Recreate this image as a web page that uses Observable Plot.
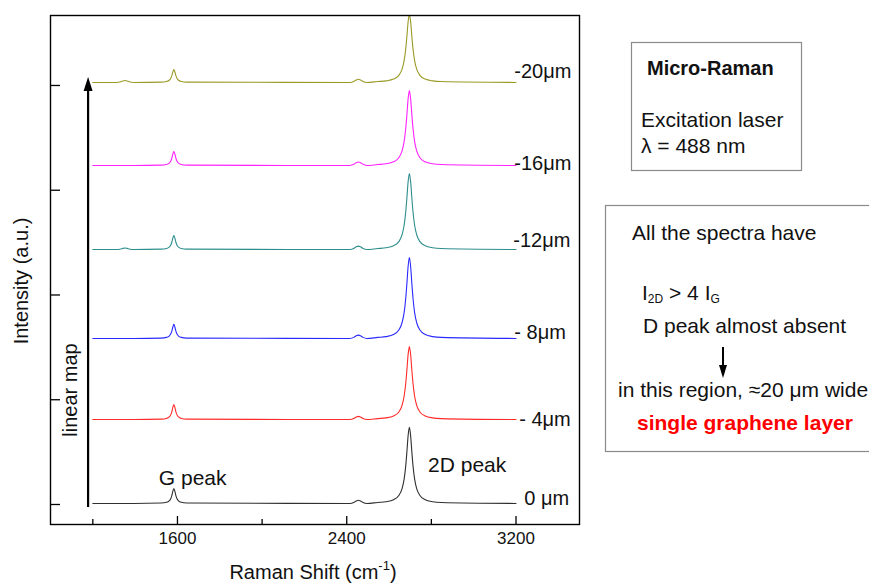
<!DOCTYPE html>
<html>
<head>
<meta charset="utf-8">
<script src="https://cdn.jsdelivr.net/npm/d3@7"></script>
<script src="https://cdn.jsdelivr.net/npm/@observablehq/plot@0.6"></script>
<style>
  html, body { margin: 0; padding: 0; background: #fff; }
  #chart { position: relative; width: 869px; height: 583px; }
  svg { font-family: "Liberation Sans", Arial, sans-serif; }
</style>
</head>
<body>
<div id="chart"></div>
<script>
// ---------- data ----------
const seriesNames  = ["0 μm", "- 4μm", "- 8μm", "-12μm", "-16μm", "-20μm"];
const seriesColors = ["#303030", "#ff2a2a", "#2a2aff", "#2e8e8e", "#ff22ff", "#9a9a28"];
const baselines    = [10, 811, 1585, 2434, 3236, 4029];      // a.u.
const peak2DHeight = [726, 697, 773, 726, 716, 650];
const peakGHeight  = [143, 143, 134, 134, 134, 124];
const bump2450     = [30, 30, 32, 32, 34, 30];
const bumpD        = [0, 0, 0, 14, 0, 18];
const labelX       = [3239, 3215, 3192, 3187, 3192, 3192];
const labelY       = [57, 811, 1642, 2520, 3255, 4134];

const xRange   = [1200, 3200];
const posD     = 1352, posG = 1583, pos2450 = 2455, pos2D = 2696;

// peak profiles (offset in cm-1, relative intensity)
const gOffsets  = [-60, -35, -22, -15, -10, -5, 0, 5, 10, 15, 22, 35, 60];
const gProfile  = [0.027, 0.075, 0.17, 0.31, 0.5, 0.8, 1, 0.8, 0.5, 0.31, 0.17, 0.075, 0.027];
const dOffsets  = [-150, -110, -75, -50, -35, -25, -17, -12, -6, 0, 6, 12, 17, 25, 35, 50, 75, 110, 150];
const dProfile  = [0.013, 0.023, 0.049, 0.104, 0.191, 0.316, 0.5, 0.667, 0.889, 1, 0.889, 0.667, 0.5, 0.316, 0.191, 0.104, 0.049, 0.023, 0.013];
const bOffsets  = [-40, -20, -10, 0, 10, 20, 40];
const bProfile  = [0, 0.4, 0.8, 1, 0.8, 0.4, 0];

const xMajor = [1600, 2400, 3200];
const xMinor = [1200, 2000, 2800];
const yTicks = [0, 1000, 2000, 3000, 4000];

// ---------- build table ----------
const rows = [];
seriesNames.forEach((name, i) => {
  const b = baselines[i];
  const pts = [[xRange[0], 0]];
  bOffsets.forEach((o, k) => pts.push([posD + o, bumpD[i] * bProfile[k]]));
  gOffsets.forEach((o, k) => pts.push([posG + o, peakGHeight[i] * gProfile[k]]));
  bOffsets.forEach((o, k) => pts.push([pos2450 + o, bump2450[i] * bProfile[k]]));
  dOffsets.forEach((o, k) => pts.push([pos2D + o, peak2DHeight[i] * dProfile[k]]));
  pts.push([xRange[1], 0]);
  pts.forEach(([x, v]) => rows.push({series: name, x, y: b + v}));
});

const W = 869, H = 583, mL = 50, mR = 290, mT = 15, mB = 59;
const frameW = W - mL - mR, frameH = H - mT - mB;

const plot = Plot.plot({
  width: W, height: H,
  marginLeft: mL, marginRight: mR, marginTop: mT, marginBottom: mB,
  x: {domain: [1000, 3500], axis: null},
  y: {domain: [-191, 4668], axis: null},
  color: {domain: seriesNames, range: seriesColors},
  style: {fontFamily: '"Liberation Sans", Arial, sans-serif', background: "#fff", overflow: "visible"},
  marks: [
    Plot.line(rows, {x: "x", y: "y", z: "series", stroke: "series", curve: "monotone-x", strokeWidth: 1.1, clip: true}),
    Plot.frame({stroke: "#000", strokeWidth: 1.4}),
    Plot.ruleX(xMajor, {x: d => d, insetTop: frameH - 8, stroke: "#000", strokeWidth: 1.3}),
    Plot.ruleX(xMinor, {x: d => d, insetTop: frameH - 5, stroke: "#000", strokeWidth: 1.3}),
    Plot.ruleY(yTicks, {y: d => d, insetRight: frameW - 10, stroke: "#000", strokeWidth: 1.3}),
    Plot.text(xMajor, {x: d => d, text: d => String(d), frameAnchor: "bottom", dy: 19, fontSize: 17, fill: "#111"}),
    Plot.text(seriesNames, {x: (d, i) => labelX[i], y: (d, i) => labelY[i], text: d => d, textAnchor: "start", fontSize: 20, fill: "#111"}),
    Plot.text(["G peak"], {x: [1672], y: [248], text: d => d, fontSize: 21, fill: "#111"}),
    Plot.text(["2D peak"], {x: [2969], y: [372], text: d => d, fontSize: 21, fill: "#111"})
  ]
});

document.getElementById("chart").appendChild(plot);

// ---------- annotations ----------
const svg = d3.select(plot);
const sx = plot.scale("x"), sy = plot.scale("y");
const ink = "#111";
const txt = (x, y, size, s, opts = {}) => svg.append("text")
  .attr("x", x).attr("y", y).attr("font-size", size)
  .attr("text-anchor", opts.anchor || "start")
  .attr("font-weight", opts.bold ? "bold" : "normal")
  .attr("fill", opts.fill || ink).text(s);

// axis titles
svg.append("text").attr("transform", "translate(28,281) rotate(-90)")
  .attr("text-anchor", "middle").attr("font-size", 20).attr("fill", ink).text("Intensity (a.u.)");
const xt = svg.append("text").attr("x", 313).attr("y", 579).attr("text-anchor", "middle")
  .attr("font-size", 20).attr("fill", ink);
xt.append("tspan").text("Raman Shift (cm");
xt.append("tspan").attr("font-size", 13).attr("dy", -9).text("-1");
xt.append("tspan").attr("dy", 9).text(")");

// linear map arrow
const ax = sx.apply(1180), ay1 = sy.apply(-29), ay2 = sy.apply(4076);
svg.append("line").attr("x1", ax).attr("x2", ax).attr("y1", ay1).attr("y2", ay2 + 12)
  .attr("stroke", "#000").attr("stroke-width", 2.2);
svg.append("path").attr("d", `M${ax},${ay2} L${ax - 4.5},${ay2 + 14} L${ax + 4.5},${ay2 + 14} Z`).attr("fill", "#000");
svg.append("text").attr("transform", `translate(${ax - 11},390) rotate(-90)`)
  .attr("text-anchor", "middle").attr("font-size", 20).attr("fill", ink).text("linear map");

// box 1
svg.append("rect").attr("x", 631.5).attr("y", 42.5).attr("width", 170).attr("height", 128)
  .attr("fill", "none").attr("stroke", "#8a8a8a").attr("stroke-width", 1.2);
txt(647, 75, 20, "Micro-Raman", {bold: true});
txt(641, 127, 21, "Excitation laser");
txt(641, 153, 21, "λ = 488 nm");

// box 2
svg.append("rect").attr("x", 605.5).attr("y", 205.5).attr("width", 300).attr("height", 246)
  .attr("fill", "none").attr("stroke", "#8a8a8a").attr("stroke-width", 1.2);
txt(632, 240, 21, "All the spectra have");
const ig = svg.append("text").attr("x", 642).attr("y", 300).attr("font-size", 21)
  .attr("text-anchor", "start").attr("fill", ink);
ig.append("tspan").text("I");
ig.append("tspan").attr("font-size", 12).attr("dy", 3).text("2D");
ig.append("tspan").attr("dy", -3).text(" > 4 I");
ig.append("tspan").attr("font-size", 12).attr("dy", 3).text("G");
txt(643, 333, 21, "D peak almost absent");
svg.append("line").attr("x1", 723).attr("x2", 723).attr("y1", 347).attr("y2", 366)
  .attr("stroke", "#000").attr("stroke-width", 2);
svg.append("path").attr("d", "M723,378 L719,365 L727,365 Z").attr("fill", "#000");
txt(618, 397, 21, "in this region, ≈20 μm wide");
txt(637, 430, 21, "single graphene layer", {bold: true, fill: "#ff0000"});
</script>
</body>
</html>
